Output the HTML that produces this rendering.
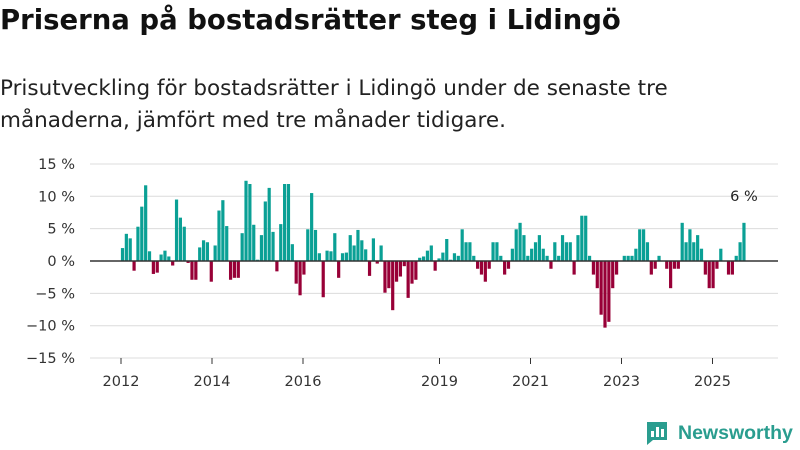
<!DOCTYPE html>
<html><head><meta charset="utf-8"><style>
body{margin:0;width:800px;height:450px;background:#fff;font-family:"DejaVu Sans","Liberation Sans",sans-serif;overflow:hidden;position:relative}
.t{position:absolute;left:0;top:4px;font-size:27.5px;font-weight:bold;color:#111;letter-spacing:0px}
.s{position:absolute;left:0;top:73px;font-size:21.5px;line-height:32px;color:#222}
</style></head><body>
<div class="t">Priserna på bostadsrätter steg i Lidingö</div>
<div class="s">Prisutveckling för bostadsrätter i Lidingö under de senaste tre<br>månaderna, jämfört med tre månader tidigare.</div>
<svg id="c" width="800" height="450" style="position:absolute;left:0;top:0"></svg>
<div style="position:absolute;left:645px;top:420px;display:flex;align-items:center">
<svg width="24" height="26" viewBox="0 0 24 26"><path d="M2 2h20v18H8l-6 5z" fill="#2a9d8f"/><rect x="6" y="11" width="3" height="6" fill="#fff"/><rect x="11" y="7" width="3" height="10" fill="#fff"/><rect x="16" y="9" width="3" height="8" fill="#fff"/></svg>
<span style="margin-left:9px;font-size:19.5px;font-weight:bold;color:#2a9d8f;font-family:'Liberation Sans',sans-serif">Newsworthy</span></div>
<script>
const values=[2,4.2,3.5,-1.5,5.3,8.4,11.7,1.5,-2,-1.8,1,1.6,0.7,-0.7,9.5,6.7,5.3,-0.3,-2.9,-2.9,2.1,3.2,2.9,-3.2,2.4,7.8,9.4,5.4,-2.9,-2.6,-2.6,4.3,12.4,11.9,5.6,0.2,4,9.2,11.3,4.5,
-1.6,5.7,11.9,11.9,2.6,-3.5,-5.3,-2.1,4.9,10.5,4.8,1.2,-5.6,1.6,1.5,4.3,-2.6,1.2,1.3,4,2.4,4.8,3.2,1.8,-2.3,3.5,-0.4,2.4,-4.9,-4.2,-7.6,-3.2,-2.4,-0.8,-5.7,-3.5,-2.9,0.5,0.7,1.6,2.4,-1.5,
0.4,1.3,3.4,0.2,1.2,0.8,4.9,2.9,2.9,0.8,-1.2,-2.1,-3.2,-1.2,2.9,2.9,0.8,-2.1,-1.2,1.9,4.9,5.9,4,0.8,1.9,2.9,4,1.9,0.8,-1.2,2.9,0.8,4,2.9,2.9,-2.1,4,7,7,0.8,-2.1,-4.2,
-8.3,-10.3,-9.4,-4.2,-2.1,0,0.8,0.8,0.8,1.9,4.9,4.9,2.9,-2.1,-1.2,0.8,0,-1.2,-4.2,-1.2,-1.2,5.9,2.9,4.9,2.9,4,1.9,-2.1,-4.2,-4.2,-1.2,1.9,0,-2.1,-2.1,0.8,2.9,5.9];
const yTicks=[15,10,5,0,-5,-10,-15];
const xTickYears=[2012,2014,2016,2019,2021,2023,2025];
const lastLabel="6 %";
const svg=document.getElementById('c');const NS='http://www.w3.org/2000/svg';
const FF='DejaVu Sans,Liberation Sans,sans-serif';
function y(v){return 261-v*6.47;}
function xb(i){return 122.5+i*3.86;}
function xt(yr){return 121+(yr-2012)*45.5;}
function mk(t,a){const e=document.createElementNS(NS,t);for(const k in a)e.setAttribute(k,a[k]);svg.appendChild(e);return e;}
yTicks.forEach(v=>{
 if(v!==0){const g=mk('line',{x1:90,x2:778,y1:y(v),y2:y(v),stroke:'#dcdcdc','stroke-width':1});
 
 }
 const t=mk('text',{x:75,y:y(v)+5,'text-anchor':'end','font-size':14.5,fill:'#333','font-family':FF});
 t.textContent=(v<0?'−'+(-v):v)+' %';
 
 
});
values.forEach((v,i)=>{
 const r=mk('rect',{x:xb(i)-1.6,width:3.2,y:v>=0?y(v):y(0),height:Math.abs(v)*6.47,fill:v>=0?'#0aa095':'#980037'});
 
 
});
const z=mk('line',{x1:90,x2:778,y1:y(0),y2:y(0),stroke:'#333','stroke-width':1.5});


xTickYears.forEach(yr=>{
 const l=mk('line',{x1:xt(yr),x2:xt(yr),y1:358,y2:364,stroke:'#333'});
 
 
 const t=mk('text',{x:xt(yr),y:386,'text-anchor':'middle','font-size':14.5,fill:'#333','font-family':FF});
 t.textContent=yr;
 
 
});
const n=values.length-1;
const lb=mk('text',{x:xb(n),y:y(values[n])-22,'text-anchor':'middle','font-size':14.5,fill:'#222','font-family':FF});
lb.textContent=lastLabel;


</script>
</body></html>
